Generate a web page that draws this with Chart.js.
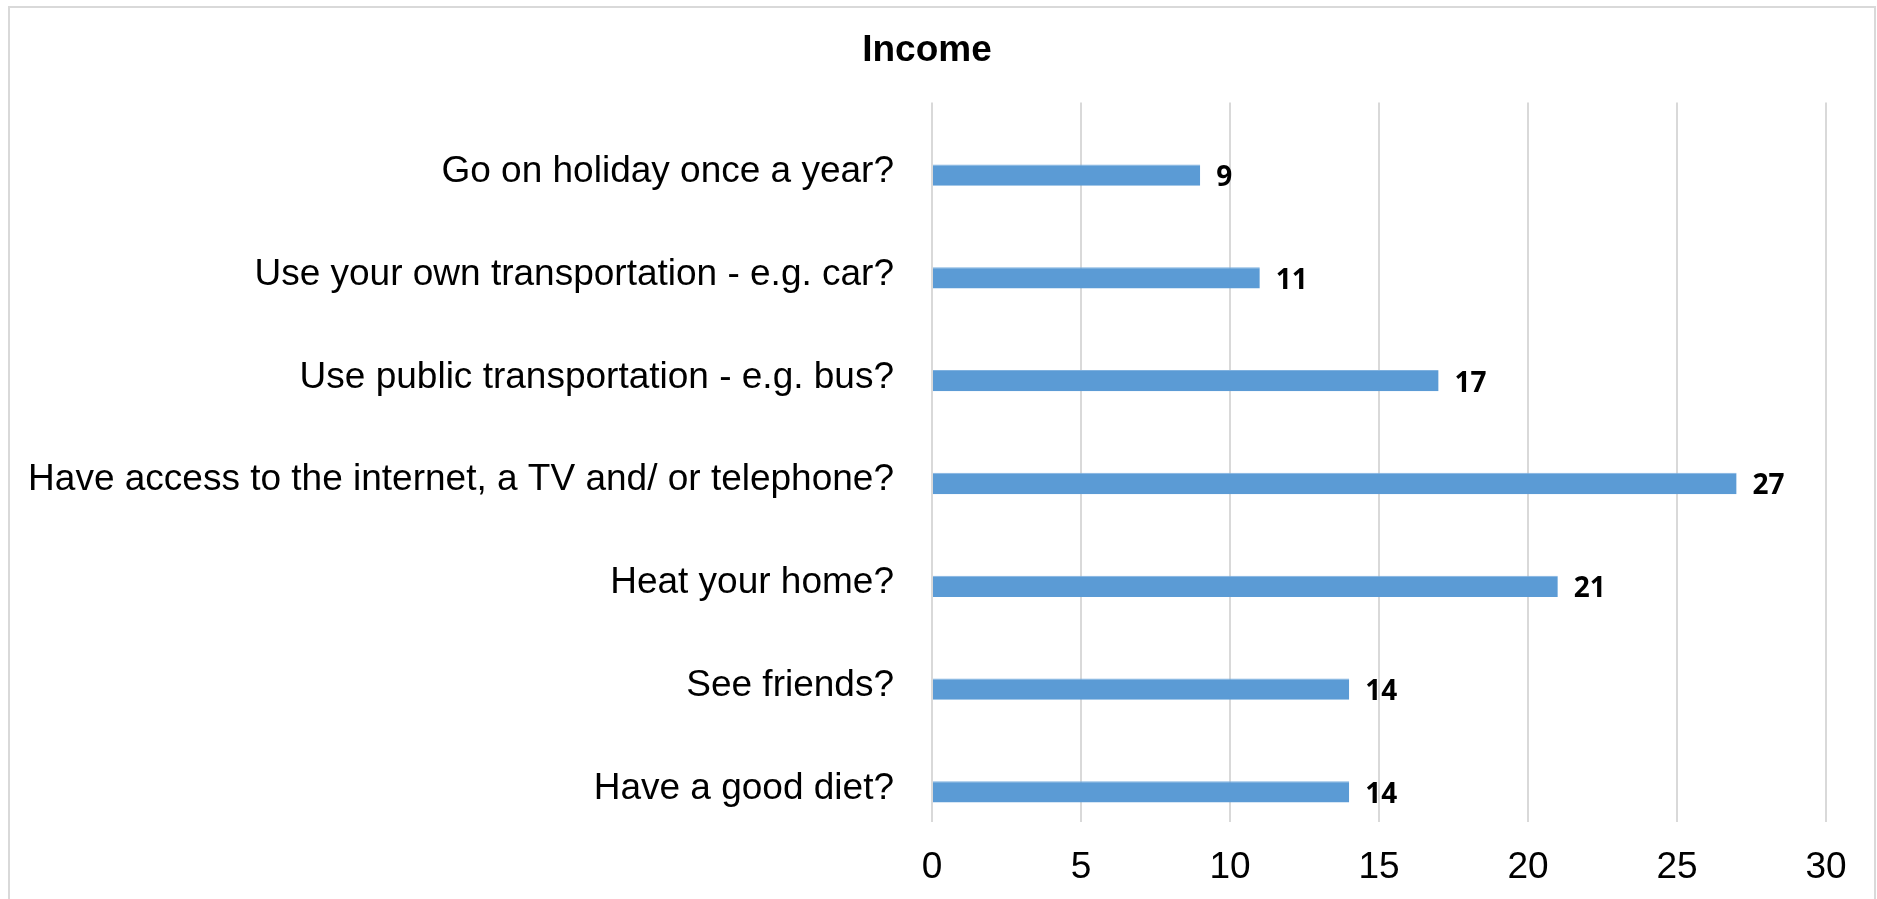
<!DOCTYPE html>
<html>
<head>
<meta charset="utf-8">
<script src="https://cdn.jsdelivr.net/npm/chart.js@4/dist/chart.umd.min.js"></script>
<style>
    body { margin: 0; background: #fff; }
    #wrap { position: relative; width: 1877px; height: 899px; }
</style>
</head>
<body>
<div id="wrap"><canvas id="income-chart"></canvas></div>
<script>
"use strict";
const questions = [
    "Go on holiday once a year?",
    "Use your own transportation - e.g. car?",
    "Use public transportation - e.g. bus?",
    "Have access to the internet, a TV and/ or telephone?",
    "Heat your home?",
    "See friends?",
    "Have a good diet?",
];
const counts = [9, 11, 17, 27, 21, 14, 14];
const axisTicks = [0, 5, 10, 15, 20, 25, 30];

const textFont = "'Liberation Sans', Arial, sans-serif";

// outer frame of the chart
const frame = {
    id: "frame",
    beforeDraw(chart) {
        const ctx = chart.ctx;
        ctx.save();
        ctx.strokeStyle = "#d9d9d9";
        ctx.lineWidth = 2;
        ctx.strokeRect(9, 7, 1866, 1000);
        ctx.restore();
    },
};

// value written after the end of each bar
const barValues = {
    id: "barValues",
    afterDatasetsDraw(chart) {
        const ctx = chart.ctx;
        const meta = chart.getDatasetMeta(2);
        ctx.save();
        ctx.font = "bold 28px 'Open Sans', sans-serif";
        ctx.fillStyle = "#000";
        ctx.textAlign = "left";
        ctx.textBaseline = "middle";
        meta.data.forEach((bar, i) => {
            ctx.fillText(counts[i], bar.x + 16, bar.y + 3);
        });
        ctx.restore();
    },
};

const incomeData = {
    labels: questions,
    datasets: [
        // two empty series keep the bar in the lower part of each row
        { label: "", data: [] },
        { label: "", data: [] },
        {
            label: "Income",
            data: counts,
            backgroundColor: "#5b9bd5",
            borderColor: "#7fb1df",
            borderWidth: { top: 1, right: 0, bottom: 0, left: 0 },
        },
    ],
};

const incomeConfig = {
    type: "bar",
    data: incomeData,
    options: {
        indexAxis: "y",
        responsive: true,
        maintainAspectRatio: false,
        animation: false,
        categoryPercentage: 0.622,
        barPercentage: 1,
        layout: {
            padding: { top: 0, left: 28, right: 51, bottom: 9 },
        },
        scales: {
            x: {
                min: 0,
                max: 30,
                afterBuildTicks(scale) {
                    scale.ticks = axisTicks.map((v) => ({ value: v }));
                },
                afterFit(scale) {
                    scale.height = 68;
                },
                grid: {
                    color: "#d9d9d9",
                    lineWidth: 2,
                    drawTicks: false,
                },
                border: { display: false },
                ticks: {
                    padding: 24,
                    color: "#000",
                    font: { family: textFont, size: 37 },
                },
            },
            y: {
                afterFit(scale) {
                    scale.width = 904;
                },
                grid: { display: false, drawTicks: false },
                border: { display: false },
                ticks: {
                    padding: 38,
                    labelOffset: 18,
                    color: "#000",
                    font: { family: textFont, size: 37 },
                },
            },
        },
        plugins: {
            legend: { display: false },
            tooltip: { enabled: false },
            title: {
                display: true,
                text: "Income",
                color: "#000",
                font: { family: textFont, size: 37, weight: "bold" },
                padding: { top: 29, bottom: 29 },
            },
        },
    },
    plugins: [frame, barValues],
};

const incomeChart = new Chart(document.getElementById("income-chart"), incomeConfig);
</script>
</body>
</html>
